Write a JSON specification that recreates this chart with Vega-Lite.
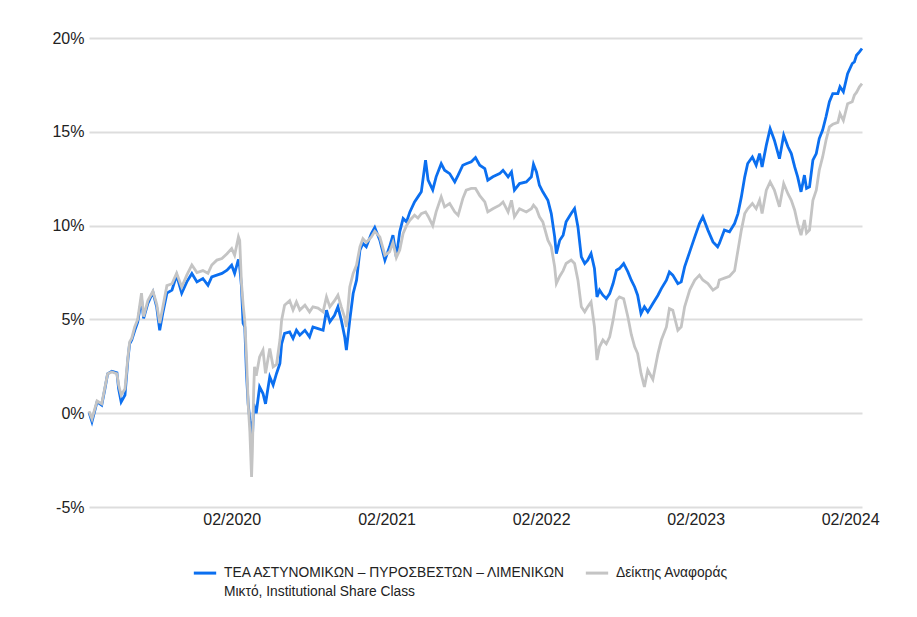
{
  "$schema": "https://vega.github.io/schema/vega-lite/v6.json",
  "autosize": {"type": "none"},
  "width": 773,
  "height": 469,
  "padding": {"left": 89, "top": 38, "right": 55, "bottom": 110},
  "background": "white",
  "config": {
    "font": "Liberation Sans",
    "view": {"stroke": null},
    "style": {"guide-label": {"lineHeight": 19}},
    "axis": {"labelFont": "Liberation Sans", "labelFontSize": 16, "labelColor": "#222222", "domain": false, "ticks": false, "title": null}
  },
  "data": {"values": [
    {"d":"2019-03-01","f":0.05,"b":0.1},
    {"d":"2019-03-08","f":-0.45,"b":-0.3},
    {"d":"2019-03-20","f":0.6,"b":0.65},
    {"d":"2019-03-31","f":0.43,"b":0.5},
    {"d":"2019-04-07","f":1.23,"b":1.3},
    {"d":"2019-04-14","f":2.1,"b":2.1},
    {"d":"2019-04-24","f":2.24,"b":2.2},
    {"d":"2019-05-06","f":2.15,"b":2.1},
    {"d":"2019-05-10","f":1.3,"b":1.5},
    {"d":"2019-05-16","f":0.6,"b":0.96},
    {"d":"2019-05-25","f":0.96,"b":1.3},
    {"d":"2019-06-01","f":2.9,"b":3.0},
    {"d":"2019-06-05","f":3.7,"b":3.8},
    {"d":"2019-06-10","f":3.9,"b":4.0},
    {"d":"2019-06-17","f":4.4,"b":4.6},
    {"d":"2019-06-24","f":4.85,"b":5.0},
    {"d":"2019-07-03","f":6.1,"b":6.4},
    {"d":"2019-07-08","f":5.05,"b":5.15},
    {"d":"2019-07-18","f":5.85,"b":6.0},
    {"d":"2019-07-30","f":6.45,"b":6.5},
    {"d":"2019-08-08","f":5.65,"b":5.8},
    {"d":"2019-08-15","f":4.42,"b":4.8},
    {"d":"2019-08-22","f":5.3,"b":5.6},
    {"d":"2019-09-01","f":6.4,"b":6.8},
    {"d":"2019-09-13","f":6.56,"b":6.9},
    {"d":"2019-09-24","f":7.36,"b":7.46},
    {"d":"2019-10-06","f":6.4,"b":6.73},
    {"d":"2019-10-18","f":7.0,"b":7.36},
    {"d":"2019-10-30","f":7.45,"b":7.9},
    {"d":"2019-11-11","f":7.0,"b":7.5},
    {"d":"2019-11-25","f":7.18,"b":7.6},
    {"d":"2019-12-07","f":6.82,"b":7.46},
    {"d":"2019-12-16","f":7.27,"b":7.9},
    {"d":"2019-12-28","f":7.36,"b":8.16},
    {"d":"2020-01-09","f":7.45,"b":8.24},
    {"d":"2020-01-21","f":7.62,"b":8.5},
    {"d":"2020-02-01","f":7.89,"b":8.78},
    {"d":"2020-02-08","f":7.45,"b":8.42},
    {"d":"2020-02-17","f":8.2,"b":9.4},
    {"d":"2020-02-20","f":7.8,"b":9.2},
    {"d":"2020-02-24","f":6.8,"b":7.0},
    {"d":"2020-02-28","f":4.8,"b":5.8},
    {"d":"2020-03-03","f":4.6,"b":4.9},
    {"d":"2020-03-07","f":2.1,"b":3.0},
    {"d":"2020-03-11","f":0.5,"b":0.5},
    {"d":"2020-03-15","f":-0.37,"b":-1.0},
    {"d":"2020-03-19","f":-0.9,"b":-3.4},
    {"d":"2020-03-21","f":-1.35,"b":-2.0},
    {"d":"2020-03-24","f":0.5,"b":1.2},
    {"d":"2020-03-26","f":0.3,"b":2.47},
    {"d":"2020-03-30","f":0.0,"b":2.0},
    {"d":"2020-04-07","f":1.4,"b":3.0},
    {"d":"2020-04-15","f":1.05,"b":3.36},
    {"d":"2020-04-21","f":0.5,"b":2.13},
    {"d":"2020-05-01","f":1.94,"b":3.45},
    {"d":"2020-05-09","f":1.5,"b":2.47},
    {"d":"2020-05-17","f":2.12,"b":2.6},
    {"d":"2020-05-25","f":2.65,"b":3.9},
    {"d":"2020-05-29","f":3.7,"b":4.96},
    {"d":"2020-06-05","f":4.25,"b":5.76},
    {"d":"2020-06-17","f":4.33,"b":6.0},
    {"d":"2020-06-25","f":3.98,"b":5.5},
    {"d":"2020-07-03","f":4.42,"b":5.93},
    {"d":"2020-07-11","f":4.16,"b":5.5},
    {"d":"2020-07-23","f":4.42,"b":5.76},
    {"d":"2020-08-03","f":4.07,"b":5.4},
    {"d":"2020-08-11","f":4.6,"b":5.67},
    {"d":"2020-08-23","f":4.51,"b":5.6},
    {"d":"2020-09-04","f":4.42,"b":5.4},
    {"d":"2020-09-12","f":5.49,"b":6.2},
    {"d":"2020-09-20","f":4.87,"b":5.67},
    {"d":"2020-10-01","f":5.22,"b":6.0},
    {"d":"2020-10-09","f":5.67,"b":6.29},
    {"d":"2020-10-17","f":4.96,"b":5.67},
    {"d":"2020-10-25","f":4.07,"b":5.1},
    {"d":"2020-10-29","f":3.36,"b":4.6},
    {"d":"2020-11-06","f":4.96,"b":6.73},
    {"d":"2020-11-14","f":6.38,"b":7.45},
    {"d":"2020-11-22","f":7.09,"b":7.9},
    {"d":"2020-11-30","f":8.69,"b":8.87},
    {"d":"2020-12-07","f":9.05,"b":9.3},
    {"d":"2020-12-15","f":8.87,"b":9.1},
    {"d":"2020-12-27","f":9.58,"b":9.4},
    {"d":"2021-01-04","f":9.9,"b":9.7},
    {"d":"2021-01-16","f":9.22,"b":9.4},
    {"d":"2021-01-28","f":8.16,"b":8.42},
    {"d":"2021-02-08","f":8.87,"b":8.6},
    {"d":"2021-02-16","f":9.49,"b":9.1},
    {"d":"2021-02-24","f":8.33,"b":8.3},
    {"d":"2021-03-04","f":9.67,"b":8.7},
    {"d":"2021-03-12","f":10.38,"b":9.58},
    {"d":"2021-03-20","f":10.2,"b":10.0},
    {"d":"2021-03-28","f":10.73,"b":10.29},
    {"d":"2021-04-08","f":11.26,"b":10.55},
    {"d":"2021-04-16","f":11.53,"b":10.4},
    {"d":"2021-04-24","f":11.8,"b":10.64},
    {"d":"2021-05-04","f":13.49,"b":10.73},
    {"d":"2021-05-10","f":12.42,"b":10.5},
    {"d":"2021-05-21","f":11.9,"b":10.0},
    {"d":"2021-05-29","f":12.6,"b":10.73},
    {"d":"2021-06-10","f":13.3,"b":11.53},
    {"d":"2021-06-18","f":12.95,"b":11.0},
    {"d":"2021-06-30","f":12.77,"b":11.18},
    {"d":"2021-07-12","f":12.33,"b":10.73},
    {"d":"2021-07-20","f":12.69,"b":10.55},
    {"d":"2021-07-31","f":13.22,"b":11.44},
    {"d":"2021-08-08","f":13.3,"b":11.89},
    {"d":"2021-08-20","f":13.4,"b":11.98},
    {"d":"2021-08-30","f":13.63,"b":11.98},
    {"d":"2021-09-09","f":13.22,"b":11.6},
    {"d":"2021-09-21","f":13.04,"b":11.26},
    {"d":"2021-09-28","f":12.42,"b":10.73},
    {"d":"2021-10-10","f":12.6,"b":10.9},
    {"d":"2021-10-26","f":12.77,"b":11.09},
    {"d":"2021-11-03","f":12.95,"b":11.26},
    {"d":"2021-11-15","f":12.6,"b":10.73},
    {"d":"2021-11-23","f":12.86,"b":11.35},
    {"d":"2021-11-30","f":11.89,"b":10.47},
    {"d":"2021-12-12","f":12.24,"b":10.9},
    {"d":"2021-12-28","f":12.33,"b":10.73},
    {"d":"2022-01-09","f":12.6,"b":10.9},
    {"d":"2022-01-14","f":13.27,"b":11.09},
    {"d":"2022-01-21","f":12.86,"b":10.9},
    {"d":"2022-01-28","f":12.15,"b":10.47},
    {"d":"2022-02-05","f":11.8,"b":10.2},
    {"d":"2022-02-17","f":11.35,"b":9.22},
    {"d":"2022-02-25","f":10.64,"b":8.87},
    {"d":"2022-03-05","f":9.4,"b":7.8},
    {"d":"2022-03-09","f":8.51,"b":6.91},
    {"d":"2022-03-17","f":9.22,"b":7.3},
    {"d":"2022-03-25","f":9.49,"b":7.6},
    {"d":"2022-04-01","f":10.2,"b":7.98},
    {"d":"2022-04-13","f":10.64,"b":8.16},
    {"d":"2022-04-21","f":10.91,"b":7.98},
    {"d":"2022-04-29","f":9.93,"b":7.09},
    {"d":"2022-05-07","f":8.33,"b":5.67},
    {"d":"2022-05-15","f":7.98,"b":5.4},
    {"d":"2022-05-22","f":8.16,"b":5.67},
    {"d":"2022-05-30","f":8.51,"b":5.93},
    {"d":"2022-06-07","f":7.71,"b":4.6},
    {"d":"2022-06-13","f":6.2,"b":2.83},
    {"d":"2022-06-19","f":6.56,"b":3.54},
    {"d":"2022-06-27","f":6.29,"b":3.9},
    {"d":"2022-07-05","f":6.11,"b":3.7},
    {"d":"2022-07-13","f":6.38,"b":4.07},
    {"d":"2022-07-21","f":6.91,"b":4.96},
    {"d":"2022-07-29","f":7.62,"b":6.02},
    {"d":"2022-08-05","f":7.71,"b":6.2},
    {"d":"2022-08-15","f":7.98,"b":6.1},
    {"d":"2022-08-25","f":7.53,"b":5.13},
    {"d":"2022-09-02","f":7.09,"b":4.2},
    {"d":"2022-09-10","f":6.73,"b":3.54},
    {"d":"2022-09-17","f":6.29,"b":3.18},
    {"d":"2022-09-25","f":5.31,"b":2.12},
    {"d":"2022-10-03","f":5.67,"b":1.4},
    {"d":"2022-10-11","f":5.4,"b":2.3},
    {"d":"2022-10-23","f":5.85,"b":1.8},
    {"d":"2022-11-04","f":6.29,"b":3.18},
    {"d":"2022-11-12","f":6.64,"b":3.9},
    {"d":"2022-11-24","f":7.09,"b":4.6},
    {"d":"2022-12-01","f":7.53,"b":5.58},
    {"d":"2022-12-09","f":7.36,"b":5.49},
    {"d":"2022-12-21","f":6.91,"b":4.42},
    {"d":"2022-12-29","f":7.0,"b":4.6},
    {"d":"2023-01-06","f":7.8,"b":5.67},
    {"d":"2023-01-18","f":8.6,"b":6.56},
    {"d":"2023-01-30","f":9.4,"b":7.1},
    {"d":"2023-02-10","f":10.11,"b":7.36},
    {"d":"2023-02-18","f":10.47,"b":7.1},
    {"d":"2023-03-02","f":9.76,"b":6.91},
    {"d":"2023-03-14","f":9.13,"b":6.56},
    {"d":"2023-03-25","f":8.87,"b":6.73},
    {"d":"2023-03-29","f":9.05,"b":7.1},
    {"d":"2023-04-10","f":9.76,"b":7.2},
    {"d":"2023-04-22","f":9.67,"b":7.3},
    {"d":"2023-05-04","f":10.11,"b":7.6},
    {"d":"2023-05-12","f":10.64,"b":8.69},
    {"d":"2023-05-20","f":11.53,"b":9.76},
    {"d":"2023-05-28","f":12.6,"b":10.64},
    {"d":"2023-06-04","f":13.31,"b":10.9},
    {"d":"2023-06-15","f":13.66,"b":11.18},
    {"d":"2023-06-24","f":13.22,"b":10.9},
    {"d":"2023-07-02","f":13.84,"b":11.35},
    {"d":"2023-07-08","f":13.13,"b":10.64},
    {"d":"2023-07-18","f":14.29,"b":11.89},
    {"d":"2023-07-27","f":15.17,"b":12.33},
    {"d":"2023-08-06","f":14.55,"b":11.89},
    {"d":"2023-08-18","f":13.57,"b":11.0},
    {"d":"2023-08-28","f":14.82,"b":12.24},
    {"d":"2023-09-07","f":14.2,"b":11.7},
    {"d":"2023-09-15","f":13.84,"b":11.35},
    {"d":"2023-09-23","f":13.13,"b":10.82},
    {"d":"2023-09-30","f":12.6,"b":10.11},
    {"d":"2023-10-08","f":11.8,"b":9.49},
    {"d":"2023-10-16","f":12.69,"b":10.3},
    {"d":"2023-10-21","f":11.98,"b":9.6},
    {"d":"2023-10-28","f":12.06,"b":9.76},
    {"d":"2023-11-05","f":13.49,"b":11.35},
    {"d":"2023-11-13","f":13.84,"b":11.89},
    {"d":"2023-11-20","f":14.64,"b":12.95},
    {"d":"2023-11-28","f":15.09,"b":13.66},
    {"d":"2023-12-06","f":15.8,"b":14.55},
    {"d":"2023-12-14","f":16.6,"b":15.26},
    {"d":"2023-12-22","f":17.04,"b":15.4},
    {"d":"2024-01-03","f":17.04,"b":15.5},
    {"d":"2024-01-08","f":17.4,"b":15.97},
    {"d":"2024-01-16","f":17.13,"b":15.6},
    {"d":"2024-01-26","f":18.1,"b":16.5},
    {"d":"2024-02-06","f":18.64,"b":16.6},
    {"d":"2024-02-11","f":18.73,"b":16.95},
    {"d":"2024-02-16","f":19.08,"b":17.1},
    {"d":"2024-02-23","f":19.26,"b":17.4},
    {"d":"2024-02-29","f":19.44,"b":17.57}
  ]},
  "transform": [
    {"fold": ["f", "b"], "as": ["key", "value"]},
    {"lookup": "key", "from": {"data": {"values": [
      {"key": "f", "series": "ΤΕΑ ΑΣΤΥΝΟΜΙΚΩΝ – ΠΥΡΟΣΒΕΣΤΩΝ – ΛΙΜΕΝΙΚΩΝ|Μικτό, Institutional Share Class"},
      {"key": "b", "series": "Δείκτης Αναφοράς| "}
    ]}, "key": "key", "fields": ["series"]}}
  ],
  "mark": {"type": "line", "strokeWidth": 2.8, "interpolate": "linear"},
  "encoding": {
    "x": {
      "field": "d", "type": "temporal",
      "scale": {"type": "utc", "domain": [{"year": 2019, "month": 3, "date": 1, "utc": true}, {"year": 2024, "month": 2, "date": 29, "utc": true}]},
      "axis": {
        "values": [
          {"year": 2020, "month": 2, "date": 1, "utc": true},
          {"year": 2021, "month": 2, "date": 1, "utc": true},
          {"year": 2022, "month": 2, "date": 1, "utc": true},
          {"year": 2023, "month": 2, "date": 1, "utc": true},
          {"year": 2024, "month": 2, "date": 1, "utc": true}
        ],
        "labelExpr": "utcFormat(datum.value, '%m/%Y')", "grid": false, "labelPadding": 4, "labelFlush": false
      }
    },
    "y": {
      "field": "value", "type": "quantitative",
      "scale": {"domain": [-5, 20], "nice": false, "zero": false},
      "axis": {"values": [-5, 0, 5, 10, 15, 20], "labelExpr": "datum.value + '%'", "grid": true, "gridColor": "#dddddd", "gridWidth": 2, "labelPadding": 5}
    },
    "color": {
      "field": "series", "type": "nominal",
      "scale": {"domain": ["ΤΕΑ ΑΣΤΥΝΟΜΙΚΩΝ – ΠΥΡΟΣΒΕΣΤΩΝ – ΛΙΜΕΝΙΚΩΝ|Μικτό, Institutional Share Class", "Δείκτης Αναφοράς| "], "range": ["#0b6ff0", "#c4c4c4"]},
      "legend": {
        "title": null, "orient": "none", "legendX": 103, "legendY": 522, "direction": "horizontal",
        "symbolType": "stroke", "symbolStrokeWidth": 3, "symbolSize": 500,
        "labelFont": "Liberation Sans", "labelFontSize": 13.8, "labelColor": "#222222", "labelLimit": 400,
        "labelExpr": "split(datum.label, '|')", "columnPadding": 12, "labelOffset": 6
      }
    }
  }
}
